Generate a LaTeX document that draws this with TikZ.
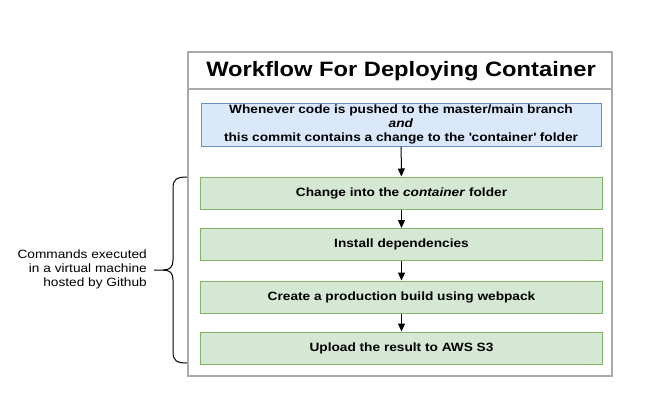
\documentclass[tikz,border=0pt]{standalone}
\usepackage{fontspec}
\setmainfont{Liberation Sans}[FakeStretch=1.14]
\usetikzlibrary{arrows.meta}
\definecolor{bluefill}{HTML}{DAE8FC}
\definecolor{bluedraw}{HTML}{6C8EBF}
\definecolor{greenfill}{HTML}{D5E8D4}
\definecolor{greendraw}{HTML}{82B366}
\definecolor{framegray}{HTML}{AAAAAA}
\tikzset{
  framebox/.style={draw=framegray, line width=1.4pt},
  bluebox/.style={draw=bluedraw, fill=bluefill, line width=1pt, minimum width=400pt, minimum height=43pt, inner sep=0pt, align=center, font=\fontsize{12}{14}\selectfont\bfseries},
  greenbox/.style={draw=greendraw, fill=greenfill, line width=1pt, minimum width=402pt, minimum height=32pt, inner sep=0pt, align=center, font=\fontsize{12}{14}\selectfont\bfseries},
  arr/.style={-{Triangle[length=8pt,width=7pt]}, line width=1pt, black},
  bracestyle/.style={line width=1pt, black},
}
\begin{document}
\begin{tikzpicture}[x=1pt,y=-1pt]
\useasboundingbox (0,0) rectangle (655,418);
\draw[framebox] (188,52) rectangle (612,376);
\draw[framebox] (188,89) -- (612,89);
\node[font=\fontsize{20.8}{24}\selectfont\bfseries] (title) at (401,71) {Workflow For Deploying Container};
\node[bluebox] (blue) at (401,124.5) {Whenever code is pushed to the master/main branch\\ \textit{and}\\ this commit contains a change to the \textquotesingle container\textquotesingle\ folder};
\node[greenbox] (g1) at (401.5,193) {Change into the \textit{container} folder};
\node[greenbox] (g2) at (401.5,244.5) {Install dependencies};
\node[greenbox] (g3) at (401.5,297) {Create a production build using webpack};
\node[greenbox] (g4) at (401.5,348) {Upload the result to AWS S3};
\draw[arr] (blue) -- (g1);
\draw[arr] (g1) -- (g2);
\draw[arr] (g2) -- (g3);
\draw[arr] (g3) -- (g4);
\coordinate (bt) at (187,177);
\coordinate (bb) at (187,363);
\coordinate (bm) at (154,270);
\draw[bracestyle] (bt) .. controls (177,177) and (173,179) .. (173,188) -- (173,260)
  .. controls (173,267) and (170,270) .. (163,270) -- (bm);
\draw[bracestyle] (163,270) .. controls (170,270) and (173,273) .. (173,280) -- (173,352)
  .. controls (173,361) and (177,363) .. (bb);
\node[anchor=east, align=right, font=\fontsize{12}{14}\selectfont, inner sep=0pt] (cmd) at (147,269) {Commands executed\\ in a virtual machine\\ hosted by Github};
\end{tikzpicture}
\end{document}
